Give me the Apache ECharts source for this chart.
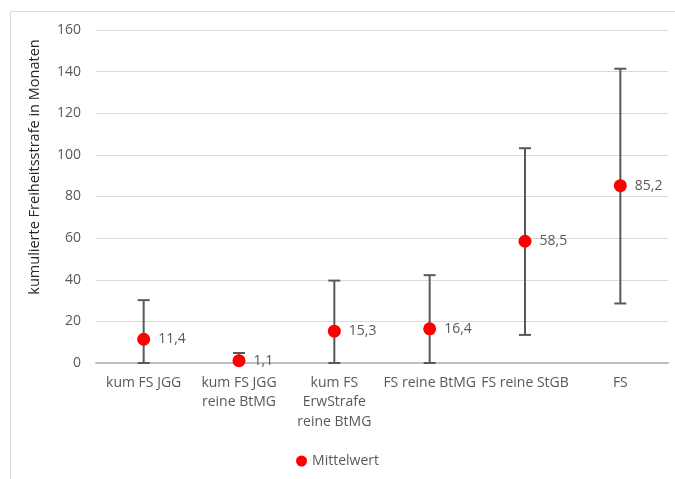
<!DOCTYPE html>
<html><head><meta charset="utf-8">
<script src="https://cdn.jsdelivr.net/npm/echarts@6/dist/echarts.min.js"></script>
<style>html,body{margin:0;padding:0;background:#fff}#c{width:675px;height:479px}</style>
</head><body><div id="c"></div>
<script>
const categories = ['kum FS JGG', 'kum FS JGG\nreine BtMG', 'kum FS\nErwStrafe\nreine BtMG', 'FS reine BtMG', 'FS reine StGB', 'FS'];
const means = [11.4, 1.1, 15.3, 16.4, 58.5, 85.2];
const lows = [0, 0, 0, 0, 13.5, 28.6];
const highs = [30.2, 4.8, 39.6, 42.2, 103.2, 141.4];
const meanLabels = ['11,4', '1,1', '15,3', '16,4', '58,5', '85,2'];
const yTicks = [0, 20, 40, 60, 80, 100, 120, 140, 160];
const yTitle = 'kumulierte Freiheitsstrafe in Monaten';

const font = 'Open Sans';
const chart = echarts.init(document.getElementById('c'));
chart.setOption({
  animation: false,
  textStyle: {fontFamily: font},
  graphic: [
    {type: 'rect', shape: {x: 10.5, y: 11.5, width: 700, height: 500}, style: {fill: 'none', stroke: '#d9d9d9', lineWidth: 1}, z: -1},
    {type: 'text', x: 35, y: 167, rotation: Math.PI / 2,
      style: {text: yTitle, fill: '#262626', font: '14.5px "Open Sans"', align: 'center', verticalAlign: 'middle'}}
  ],
  grid: {left: 96, right: 7, top: 30, bottom: 116},
  legend: {top: 449, left: 'center', itemWidth: 11, itemHeight: 11, itemGap: 5, icon: 'circle',
    itemStyle: {opacity: 1},
    textStyle: {color: '#595959', fontSize: 14, fontFamily: font}, data: ['Mittelwert']},
  xAxis: {type: 'category', data: categories, boundaryGap: true,
    axisLine: {lineStyle: {color: '#bfbfbf', width: 2}}, axisTick: {show: false},
    axisLabel: {color: '#595959', fontSize: 14, fontFamily: font, lineHeight: 19.5, margin: 10, interval: 0}},
  yAxis: {type: 'value', min: 0, max: 160, interval: 20,
    axisLine: {show: false}, axisTick: {show: false},
    splitLine: {lineStyle: {color: '#d9d9d9', width: 1}},
    axisLabel: {color: '#595959', fontSize: 14, fontFamily: font, margin: 15,
      formatter: v => yTicks.includes(v) ? String(v) : ''}},
  series: [
    {type: 'custom', name: 'err', silent: true, z: 2,
      data: categories.map((c, i) => [i, lows[i], highs[i]]),
      renderItem: (params, api) => {
        const lo = api.coord([api.value(0), api.value(1)]);
        const hi = api.coord([api.value(0), api.value(2)]);
        const hw = 6;
        const st = {stroke: '#595959', lineWidth: 2};
        return {type: 'group', children: [
          {type: 'line', shape: {x1: lo[0], y1: lo[1], x2: hi[0], y2: hi[1]}, style: st},
          {type: 'line', shape: {x1: lo[0] - hw, y1: lo[1], x2: lo[0] + hw, y2: lo[1]}, style: st},
          {type: 'line', shape: {x1: hi[0] - hw, y1: hi[1], x2: hi[0] + hw, y2: hi[1]}, style: st}
        ]};
      }},
    {type: 'scatter', name: 'Mittelwert', z: 3, symbolSize: 13,
      itemStyle: {color: '#ff0000', opacity: 1},
      data: means.map((m, i) => ({value: [i, m], label: {formatter: meanLabels[i]}})),
      label: {show: true, position: 'right', distance: 8, color: '#595959', fontSize: 14, fontFamily: font}}
  ]
});
</script></body></html>
